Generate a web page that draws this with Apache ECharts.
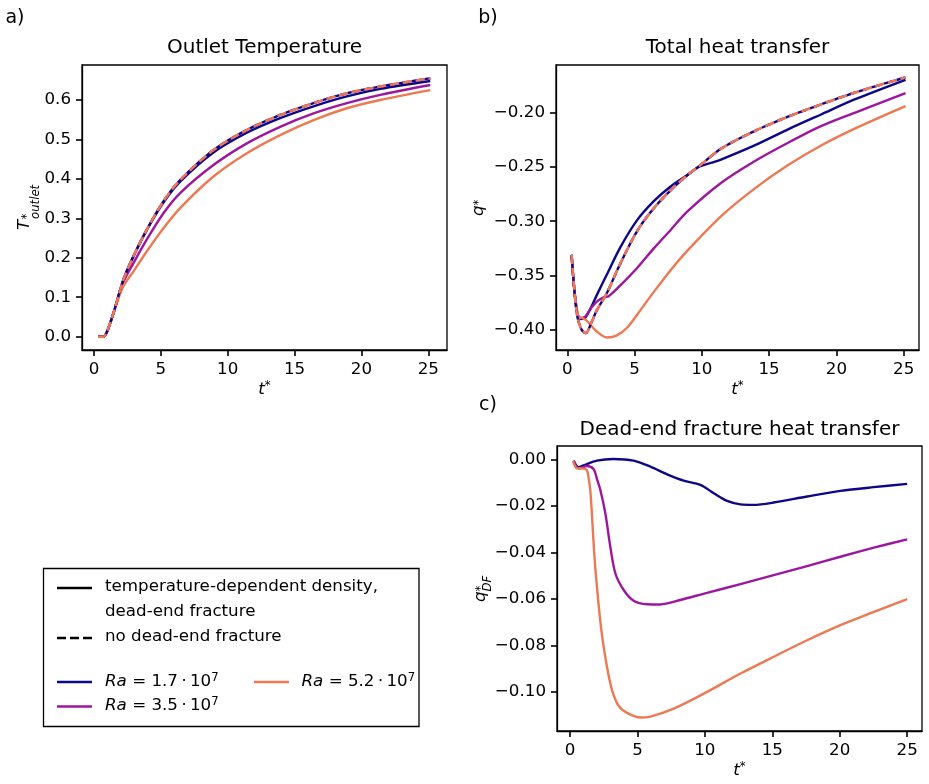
<!DOCTYPE html>
<html><head><meta charset="utf-8">
<script src="https://cdn.jsdelivr.net/npm/echarts@6/dist/echarts.min.js"></script>
<style>html,body{margin:0;padding:0;background:#fff}#c{width:929px;height:784px}</style>
</head><body><div id="c"></div>
<script>
// ---------- data ----------
const xTicks = [0, 5, 10, 15, 20, 25];
const aTicks = [0, 0.1, 0.2, 0.3, 0.4, 0.5, 0.6];
const bTicks = [-0.40, -0.35, -0.30, -0.25, -0.20];
const cTicks = [-0.10, -0.08, -0.06, -0.04, -0.02, 0.00];

// a) Outlet temperature
const tA = [0.3, 0.7, 1.0, 1.5, 2.19, 2.94, 3.94, 5.19, 6.44, 8.93, 11.43, 13.92, 16.42, 18.91, 21.41, 25.15];
const aDash = [0, 0, 0.015, 0.065, 0.144, 0.203, 0.271, 0.343, 0.397, 0.473, 0.524, 0.562, 0.592, 0.617, 0.634, 0.655];
const aNavy = [0, 0, 0.015, 0.065, 0.144, 0.203, 0.270, 0.340, 0.393, 0.467, 0.517, 0.554, 0.584, 0.609, 0.628, 0.648];
const aPurple = [0, 0, 0.015, 0.065, 0.138, 0.186, 0.246, 0.313, 0.364, 0.435, 0.490, 0.532, 0.566, 0.592, 0.613, 0.638];
const aOrange = [0, 0, 0.015, 0.065, 0.128, 0.165, 0.216, 0.275, 0.326, 0.406, 0.465, 0.511, 0.549, 0.579, 0.600, 0.625];

// b) Total heat transfer
const tBd = [0.32, 0.5, 0.75, 1.07, 1.37, 1.8, 2.19, 2.94, 3.94, 5.19, 6.43, 7.68, 8.93, 9.68, 11.42, 13.92, 16.41, 18.90, 21.40, 25.14];
const bDash = [-0.331, -0.360, -0.388, -0.400, -0.403, -0.393, -0.382, -0.366, -0.339, -0.309, -0.288, -0.2715, -0.2575, -0.2505, -0.2333, -0.217, -0.2037, -0.1923, -0.1815, -0.1676];
const tBn = [0.32, 0.5, 0.75, 1.0, 1.32, 1.7, 2.19, 2.94, 3.94, 5.19, 6.43, 7.68, 8.93, 9.68, 10.67, 11.42, 13.92, 16.41, 18.90, 21.40, 25.14];
const bNavy = [-0.331, -0.360, -0.385, -0.390, -0.389, -0.381, -0.368, -0.349, -0.324, -0.299, -0.2815, -0.268, -0.2575, -0.2505, -0.2463, -0.2432, -0.2302, -0.2154, -0.2015, -0.1877, -0.1698];
const tBp = [0.32, 0.5, 0.75, 1.0, 1.32, 1.7, 2.19, 2.69, 3.07, 3.94, 5.19, 6.43, 7.68, 8.93, 11.42, 13.92, 16.41, 18.90, 21.40, 25.14];
const bPurple = [-0.331, -0.360, -0.386, -0.389, -0.388, -0.381, -0.374, -0.370, -0.369, -0.359, -0.343, -0.325, -0.308, -0.291, -0.2648, -0.2448, -0.2278, -0.2123, -0.2000, -0.1821];
const tBo = [0.32, 0.5, 0.82, 1.07, 1.4, 1.70, 2.19, 2.94, 3.69, 4.44, 5.19, 6.43, 7.68, 8.93, 11.42, 13.92, 16.41, 18.90, 21.40, 25.14];
const bOrange = [-0.331, -0.360, -0.388, -0.389, -0.391, -0.395, -0.4015, -0.407, -0.405, -0.398, -0.386, -0.365, -0.345, -0.327, -0.2955, -0.2700, -0.2483, -0.2300, -0.2145, -0.1940];

// c) Dead-end fracture heat transfer
const tCn = [0.27, 0.64, 1.01, 2.0, 3.2, 4.72, 5.96, 7.2, 8.43, 9.67, 10.66, 11.65, 12.64, 13.6, 15.1, 17.58, 20.05, 22.5, 25.0];
const cNavy = [-0.0006, -0.0034, -0.0026, -0.0006, 0.0001, -0.0006, -0.0032, -0.0065, -0.0092, -0.0110, -0.0146, -0.0179, -0.0194, -0.0196, -0.0186, -0.0160, -0.0136, -0.0120, -0.0106];
const tCp = [0.27, 0.64, 1.26, 1.76, 2.0, 2.25, 2.62, 2.99, 3.36, 3.98, 4.72, 5.71, 6.70, 8.18, 10.16, 12.64, 15.1, 17.58, 20.05, 22.53, 25.0];
const cPurple = [-0.0006, -0.0039, -0.0029, -0.0043, -0.0085, -0.0132, -0.0232, -0.0376, -0.0490, -0.0562, -0.0608, -0.0623, -0.0624, -0.0605, -0.0574, -0.0537, -0.0498, -0.0459, -0.0419, -0.0380, -0.0344];
const tCo = [0.22, 0.52, 1.01, 1.26, 1.38, 1.5, 1.63, 1.75, 1.88, 2.13, 2.37, 2.74, 3.12, 3.61, 4.23, 5.22, 5.96, 7.69, 10.16, 12.64, 15.1, 17.58, 20.05, 22.53, 25.0];
const cOrange = [-0.0007, -0.0039, -0.0040, -0.0047, -0.0080, -0.0130, -0.0240, -0.0360, -0.0470, -0.0630, -0.0755, -0.0892, -0.0993, -0.1060, -0.1090, -0.1110, -0.1106, -0.1072, -0.1000, -0.0921, -0.0849, -0.0778, -0.0713, -0.0656, -0.0601];

const titles = ['Outlet Temperature', 'Total heat transfer', 'Dead-end fracture heat transfer'];
const legendHeader = ['temperature-dependent density,', 'dead-end fracture', 'no dead-end fracture'];
const raLabels = ['1.7', '3.5', '5.2'];

// ---------- styling ----------
const F = 'DejaVu Sans';
const FS = 16.7;
const NAVY = '#0d0887', PURPLE = '#9c179e', ORANGE = '#ed7953';
const LW = 2.4;
const DASH = [9, 4];

const zip = (t, v) => t.map((x, i) => [x, v[i]]);
const minus = v => (v < -1e-9 ? '\u2212' + Math.abs(v).toFixed(2) : Math.abs(v).toFixed(2));

function xAxis(gi, min, max) {
  return {
    type: 'value', gridIndex: gi, min, max, z: 10,
    axisLine: { show: true, onZero: false, lineStyle: { color: '#000', width: 1.3 } },
    axisTick: { show: true, length: 6, lineStyle: { color: '#000', width: 1.6 }, customValues: xTicks.slice() },
    axisLabel: { customValues: xTicks.slice(), fontFamily: F, fontSize: FS, color: '#000', margin: 11 },
    splitLine: { show: false }
  };
}
function yAxis(gi, min, max, ticks, fmt) {
  return {
    type: 'value', gridIndex: gi, min, max, z: 10,
    axisLine: { show: true, onZero: false, lineStyle: { color: '#000', width: 1.3 } },
    axisTick: { show: true, length: 6, lineStyle: { color: '#000', width: 1.6 }, customValues: ticks.slice() },
    axisLabel: { customValues: ticks.slice(), fontFamily: F, fontSize: FS, color: '#000', margin: 11, formatter: fmt },
    splitLine: { show: false }
  };
}
function line(gi, data, color, z, dashed, offset) {
  return {
    type: 'line', xAxisIndex: gi, yAxisIndex: gi, data, showSymbol: false, symbol: 'none',
    smooth: 0.3, z, silent: true,
    lineStyle: { color, width: LW, type: dashed ? DASH : 'solid', dashOffset: offset || 0, cap: 'butt', join: 'round' }
  };
}

function txt(x, y, text, size, align) {
  return { type: 'text', x, y, silent: true,
    style: { text, fontFamily: F, fontSize: size, fill: '#000', align: align || 'center', verticalAlign: 'middle' } };
}
const richBase = {
  n: { fontFamily: F, fontSize: FS, fill: '#000', lineHeight: 20 },
  i: { fontFamily: F, fontSize: FS, fontStyle: 'italic', fill: '#000', lineHeight: 20 },
  s: { fontFamily: F, fontSize: 11.7, fill: '#000', verticalAlign: 'top', lineHeight: 12 }
};
function rich(x, y, text, align) {
  return { type: 'text', x, y, silent: true,
    style: { text, rich: richBase, fontFamily: F, fontSize: FS, fill: '#000', align: align || 'left', verticalAlign: 'middle' } };
}
function rotLabel(x, y, parts) {
  return { type: 'group', x, y, rotation: Math.PI / 2, silent: true,
    children: parts.map(p => ({ type: 'text', x: p[0], y: p[1],
      style: { text: p[2], fontFamily: F, fontSize: p[3], fontStyle: p[4] ? 'italic' : 'normal', fill: '#000', align: 'left', verticalAlign: 'middle' } })) };
}
const DOT = '\u2009\u22c5\u2009';

const graphics = [
  txt(15, 18, 'a)', 19), txt(488, 18, 'b)', 19), txt(488, 405, 'c)', 19),
  txt(264.5, 48, titles[0], 20), txt(737.5, 48, titles[1], 20), txt(739.5, 430, titles[2], 20),
  rich(264.5, 390, '{i|t}{s|*}', 'center'),
  rich(737.5, 390, '{i|t}{s|*}', 'center'),
  rich(739.5, 771, '{i|t}{s|*}', 'center'),
  rotLabel(30, 230, [[0, -5, 'T', FS, true], [10.5, -3.5, '*', 11.7, false], [11, 6, 'outlet', 11.7, true]]),
  rotLabel(484, 216, [[0, -5, 'q', FS, true], [10.5, -5, '*', 11.7, false]]),
  rotLabel(486, 602, [[0, -5, 'q', FS, true], [10.5, -5, '*', 11.7, false], [10.5, 2, 'DF', 11.7, true]]),
  // legend
  { type: 'rect', silent: true, shape: { x: 43.5, y: 568.5, width: 375.5, height: 158 }, style: { fill: '#fff', stroke: '#000', lineWidth: 1.3 } },
  { type: 'line', silent: true, shape: { x1: 57, y1: 588, x2: 92, y2: 588 }, style: { stroke: '#000', lineWidth: 2.5 } },
  { type: 'line', silent: true, shape: { x1: 57, y1: 638, x2: 92, y2: 638 }, style: { stroke: '#000', lineWidth: 2.5, lineDash: DASH } },
  { type: 'line', silent: true, shape: { x1: 57, y1: 682, x2: 92, y2: 682 }, style: { stroke: NAVY, lineWidth: 2.5 } },
  { type: 'line', silent: true, shape: { x1: 57, y1: 706.5, x2: 92, y2: 706.5 }, style: { stroke: PURPLE, lineWidth: 2.5 } },
  { type: 'line', silent: true, shape: { x1: 254, y1: 682, x2: 289, y2: 682 }, style: { stroke: ORANGE, lineWidth: 2.5 } },
  txt(105, 587, legendHeader[0], FS, 'left'),
  txt(105, 611.5, legendHeader[1], FS, 'left'),
  txt(105, 636.5, legendHeader[2], FS, 'left'),
  rich(105, 681.5, '{i|Ra}{n| = ' + raLabels[0] + DOT + '10}{s|7}'),
  rich(105, 705.5, '{i|Ra}{n| = ' + raLabels[1] + DOT + '10}{s|7}'),
  rich(301.5, 681.5, '{i|Ra}{n| = ' + raLabels[2] + DOT + '10}{s|7}')
];

const option = {
  animation: false,
  grid: [
    { left: 82, top: 65, width: 365, height: 285, show: true, borderColor: '#000', borderWidth: 1.3, backgroundColor: 'transparent' },
    { left: 556, top: 65, width: 363, height: 285, show: true, borderColor: '#000', borderWidth: 1.3, backgroundColor: 'transparent' },
    { left: 557, top: 446, width: 365, height: 285, show: true, borderColor: '#000', borderWidth: 1.3, backgroundColor: 'transparent' }
  ],
  xAxis: [xAxis(0, -0.9, 26.4), xAxis(1, -0.84, 26.14), xAxis(2, -0.964, 26.1)],
  yAxis: [
    yAxis(0, -0.0337, 0.6886, aTicks, v => v.toFixed(1)),
    yAxis(1, -0.4185, -0.1562, bTicks, minus),
    yAxis(2, -0.1168, 0.0057, cTicks, minus)
  ],
  series: [
    line(0, zip(tA, aNavy), NAVY, 2), line(0, zip(tA, aPurple), PURPLE, 2), line(0, zip(tA, aOrange), ORANGE, 2),
    line(0, zip(tA, aDash), NAVY, 3, true, 4), line(0, zip(tA, aDash), PURPLE, 4, true, 0), line(0, zip(tA, aDash), ORANGE, 5, true, 0),
    line(1, zip(tBn, bNavy), NAVY, 2), line(1, zip(tBp, bPurple), PURPLE, 2), line(1, zip(tBo, bOrange), ORANGE, 2),
    line(1, zip(tBd, bDash), NAVY, 3, true, 4), line(1, zip(tBd, bDash), PURPLE, 4, true, 0), line(1, zip(tBd, bDash), ORANGE, 5, true, 0),
    line(2, zip(tCn, cNavy), NAVY, 2), line(2, zip(tCp, cPurple), PURPLE, 2), line(2, zip(tCo, cOrange), ORANGE, 2)
  ],
  graphic: graphics
};
const chart = echarts.init(document.getElementById('c'), null, { renderer: 'canvas' });
chart.setOption(option);
</script></body></html>
